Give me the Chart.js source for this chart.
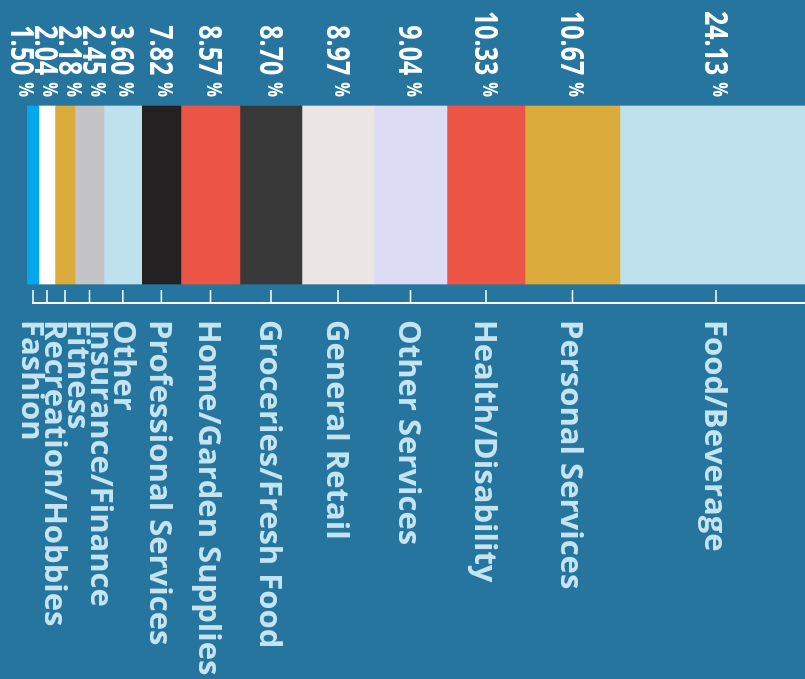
<!DOCTYPE html>
<html>
<head>
<meta charset="utf-8">
<script src="https://cdn.jsdelivr.net/npm/chart.js@4.4.0/dist/chart.umd.min.js"></script>
<style>
html, body { margin: 0; padding: 0; width: 805px; height: 679px; overflow: hidden; background: #25759e; }
/* the chart is drawn upright and then turned a quarter clockwise */
#wrap { position: absolute; left: 0; top: 0; width: 679px; height: 805px; transform-origin: 0 0; transform: translate(805px, 0) rotate(90deg); }
</style>
</head>
<body>
<div id="wrap"><canvas id="chart" width="679" height="805"></canvas></div>
<script>
var categories = ["Fashion", "Recreation/Hobbies", "Fitness", "Insurance/Finance", "Other",
  "Professional Services", "Home/Garden Supplies", "Groceries/Fresh Food", "General Retail",
  "Other Services", "Health/Disability", "Personal Services", "Food/Beverage"];
var shares = [1.50, 2.04, 2.18, 2.45, 3.60, 7.82, 8.57, 8.70, 8.97, 9.04, 10.33, 10.67, 24.13];
var sizes = [12, 16, 20, 29, 37.7, 39.3, 59, 62, 72, 73, 78, 95, 192];
var colors = ["#05a6f0", "#ffffff", "#dbab3b", "#c4c4c6", "#bfe1ed", "#242122", "#ec5545",
  "#393939", "#ebe6e3", "#dcdcf5", "#ec5545", "#dbab3b", "#bfe1ed"];

var FONT = '"Open Sans", Lato, sans-serif';

// push labels apart evenly (pixel positions go up the page, so they decrease)
function spread(pos, gap) {
  var p = pos.slice();
  for (var k = 0; k < 300; k++) {
    for (var i = 1; i < p.length; i++) {
      var d = p[i - 1] - p[i];
      if (d < gap) { var m = (gap - d) / 2; p[i - 1] += m; p[i] -= m; }
    }
  }
  return p;
}
function push(pos, gap) {
  var p = pos.slice();
  for (var i = 1; i < p.length; i++) p[i] = Math.min(p[i], p[i - 1] - gap);
  return p;
}

var labelPlugin = {
  id: 'labels',
  afterDatasetsDraw: function(chart) {
    var ctx = chart.ctx, y = chart.scales.y, area = chart.chartArea;
    var mids = [], acc = 0;
    sizes.forEach(function(s) { mids.push(y.getPixelForValue(acc + s / 2)); acc += s; });
    var ax = area.right;

    ctx.save();
    // axis line and ticks
    ctx.strokeStyle = '#ffffff';
    ctx.lineWidth = 2;
    ctx.beginPath();
    ctx.moveTo(ax, mids[0] + 1);
    ctx.lineTo(ax, 0);
    ctx.stroke();
    ctx.lineWidth = 1.5;
    mids.forEach(function(m) {
      ctx.beginPath();
      ctx.moveTo(ax - 13, m);
      ctx.lineTo(ax, m);
      ctx.stroke();
    });

    // category names
    var cs = 31, cap = cs * 0.714;
    ctx.font = 'bold ' + cs + 'px ' + FONT;
    ctx.fillStyle = '#c4e4f2';
    ctx.textAlign = 'left';
    ctx.textBaseline = 'alphabetic';
    push(mids, 23).forEach(function(p, i) {
      ctx.fillText(categories[i], ax + 17, p + cap / 2);
    });

    // percentages, squeezed sideways to match the narrow figures
    var vs = 32, vcap = vs * 0.714, ps = 21, sx = 0.78;
    var right = 97;
    ctx.fillStyle = '#ffffff';
    ctx.textAlign = 'right';
    spread(mids, 24).forEach(function(p, i) {
      var base = p + vcap / 2;
      ctx.save();
      ctx.translate(right, base);
      ctx.scale(sx, 1);
      ctx.font = 'bold ' + ps + 'px ' + FONT;
      var pw = ctx.measureText('%').width;
      ctx.fillText('%', 0, -8);
      ctx.font = 'bold ' + vs + 'px ' + FONT;
      ctx.fillText(shares[i].toFixed(2), -pw - 9, 0);
      ctx.restore();
    });
    ctx.restore();
  }
};

function draw() {
  new Chart(document.getElementById('chart'), {
    type: 'bar',
    data: {
      labels: [''],
      datasets: categories.map(function(c, i) {
        return { label: c, data: [sizes[i]], backgroundColor: colors[i], borderWidth: 0, barThickness: 178 };
      })
    },
    options: {
      responsive: false,
      animation: false,
      layout: { padding: { left: 87, right: 376, top: 0, bottom: 27 } },
      scales: {
        x: { display: false, stacked: true },
        y: { display: false, stacked: true, min: 0, max: 778 }
      },
      plugins: { legend: { display: false }, tooltip: { enabled: false } }
    },
    plugins: [labelPlugin]
  });
}

if (document.fonts && document.fonts.load) {
  document.fonts.load('bold 31px "Open Sans"').then(draw, draw);
} else {
  draw();
}
</script>
</body>
</html>
